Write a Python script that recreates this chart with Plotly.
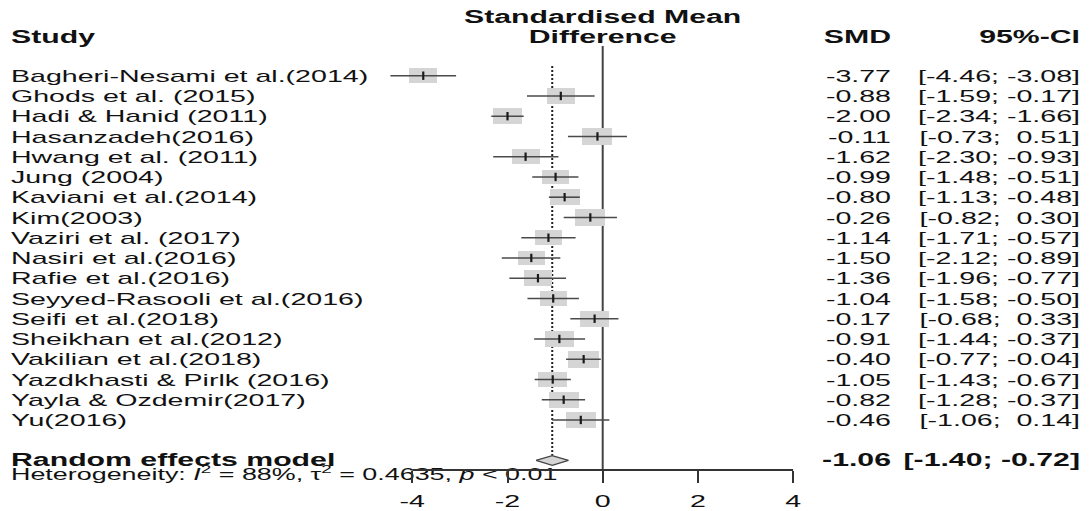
import plotly.graph_objects as go

# ---------------- data ----------------
studies = [
    "Bagheri-Nesami et al.(2014)", "Ghods et al. (2015)", "Hadi & Hanid (2011)",
    "Hasanzadeh(2016)", "Hwang et al. (2011)", "Jung (2004)", "Kaviani et al.(2014)",
    "Kim(2003)", "Vaziri et al. (2017)", "Nasiri et al.(2016)", "Rafie et al.(2016)",
    "Seyyed-Rasooli et al.(2016)", "Seifi et al.(2018)", "Sheikhan et al.(2012)",
    "Vakilian et al.(2018)", "Yazdkhasti & Pirlk (2016)", "Yayla & Ozdemir(2017)", "Yu(2016)",
]
smd = [-3.77, -0.88, -2.00, -0.11, -1.62, -0.99, -0.80, -0.26, -1.14, -1.50,
       -1.36, -1.04, -0.17, -0.91, -0.40, -1.05, -0.82, -0.46]
ci_lo = [-4.46, -1.59, -2.34, -0.73, -2.30, -1.48, -1.13, -0.82, -1.71, -2.12,
         -1.96, -1.58, -0.68, -1.44, -0.77, -1.43, -1.28, -1.06]
ci_hi = [-3.08, -0.17, -1.66, 0.51, -0.93, -0.51, -0.48, 0.30, -0.57, -0.89,
         -0.77, -0.50, 0.33, -0.37, -0.04, -0.67, -0.37, 0.14]
weights = [5.1, 5.3, 6.0, 6.0, 5.2, 4.8, 6.0, 5.9, 4.9, 4.8,
           5.5, 4.8, 5.9, 5.9, 6.5, 5.5, 6.0, 6.0]   # % (random effects), estimated

pooled_label = "Random effects model"
pooled_smd = -1.06
pooled_lo = -1.40
pooled_hi = -0.72
heterogeneity = "Heterogeneity: <i>I</i><sup>2</sup> = 88%, \u03c4<sup>2</sup> = 0.4635, <i>p</i> &lt; 0.01"

tick_vals = [-4, -2, 0, 2, 4]
tick_text = ["-4", "-2", "0", "2", "4"]

# ---------------- layout constants ----------------
FONT = "Liberation Sans, Arial, sans-serif"
W, H = 1090, 511
PX_ROW = 20.25          # pixels per row
ROW0_PX = 75.7          # pixel y of first study row
PX_UNIT = 47.6          # pixels per SMD unit
ZERO_PX = 602.7         # pixel x of SMD = 0
TEXT_STRETCH = 1.68     # the reference text is drawn horizontally widened
TEXT_DY = 2.0           # text sits slightly below the marks in the reference (px)

y_bottom = (H - ROW0_PX) / PX_ROW
y_top = -ROW0_PX / PX_ROW
x_left = -ZERO_PX / PX_UNIT
x_right = (W - ZERO_PX) / PX_UNIT


def xpx(p):
    return (p - ZERO_PX) / PX_UNIT


def ypx(p):
    return (p - ROW0_PX) / PX_ROW


n = len(studies)
rows = list(range(n))
row_pooled = n + 1
row_axis = ypx(470)
axis_pos = (y_bottom - row_axis) / (y_bottom - y_top)
dy = TEXT_DY / PX_ROW
text_rows = [r + dy for r in rows]

x_names = xpx(11)
x_smd = xpx(891)
x_ci = xpx(1080)


def fmt_ci(lo, hi):
    return f"[{lo:5.2f}; {hi:5.2f}]".replace(" ", "\u00a0")


def fmt_v(v):
    return f"{v:.2f}"


ref_w = 5.42
box_w = [(28.5 / PX_UNIT) * (w / ref_w) ** 0.5 for w in weights]
box_h = [0.77 * (w / ref_w) ** 0.5 for w in weights]

fig = go.Figure()

# study squares (weights)
fig.add_trace(go.Bar(
    orientation="h",
    y=rows,
    x=box_w,
    base=[s - bw / 2 for s, bw in zip(smd, box_w)],
    width=box_h,
    marker=dict(color="#d5d5d5", line=dict(width=0)),
    hoverinfo="skip",
))

# confidence intervals + point estimates
fig.add_trace(go.Scatter(
    x=smd, y=rows, mode="markers",
    marker=dict(symbol="line-ns", size=6, line=dict(width=2.2, color="#1a1a1a")),
    error_x=dict(type="data", symmetric=False,
                 array=[h - s for h, s in zip(ci_hi, smd)],
                 arrayminus=[s - l for s, l in zip(smd, ci_lo)],
                 width=0, thickness=1.6, color="#4a4a4a"),
    cliponaxis=False, hoverinfo="skip",
))

# pooled diamond
fig.add_trace(go.Scatter(
    x=[pooled_lo, pooled_smd, pooled_hi, pooled_smd, pooled_lo],
    y=[row_pooled, row_pooled - 0.24, row_pooled, row_pooled + 0.24, row_pooled],
    mode="lines", fill="toself", fillcolor="#d5d5d5",
    line=dict(color="#444444", width=1.3), hoverinfo="skip",
))

# text columns
body = dict(family=FONT, size=17, color="#111111")
bold = dict(family=FONT, size=18, color="#111111", weight="bold")

fig.add_trace(go.Scatter(x=[x_names] * n, y=text_rows, mode="text", text=studies,
                         textposition="middle right", textfont=body, hoverinfo="skip"))
fig.add_trace(go.Scatter(x=[x_smd] * n, y=text_rows, mode="text", text=[fmt_v(v) for v in smd],
                         textposition="middle left", textfont=body, hoverinfo="skip"))
fig.add_trace(go.Scatter(x=[x_ci] * n, y=text_rows, mode="text",
                         text=[fmt_ci(l, h) for l, h in zip(ci_lo, ci_hi)],
                         textposition="middle left", textfont=body, hoverinfo="skip"))

# headers
y_head = ypx(38)
fig.add_trace(go.Scatter(x=[x_names], y=[y_head], mode="text", text=["Study"],
                         textposition="middle right", textfont=bold, hoverinfo="skip"))
fig.add_trace(go.Scatter(x=[0, 0], y=[ypx(18), y_head], mode="text",
                         text=["Standardised Mean", "Difference"],
                         textposition="middle center", textfont=bold, hoverinfo="skip"))
fig.add_trace(go.Scatter(x=[x_smd], y=[y_head], mode="text", text=["SMD"],
                         textposition="middle left", textfont=bold, hoverinfo="skip"))
fig.add_trace(go.Scatter(x=[x_ci], y=[y_head], mode="text", text=["95%-CI"],
                         textposition="middle left", textfont=bold, hoverinfo="skip"))

# pooled row text
y_pool_text = ypx(461.5)
fig.add_trace(go.Scatter(x=[x_names], y=[y_pool_text], mode="text", text=[pooled_label],
                         textposition="middle right", textfont=bold, hoverinfo="skip"))
fig.add_trace(go.Scatter(x=[x_smd], y=[y_pool_text], mode="text", text=[fmt_v(pooled_smd)],
                         textposition="middle left", textfont=bold, hoverinfo="skip"))
fig.add_trace(go.Scatter(x=[x_ci], y=[y_pool_text], mode="text", text=[fmt_ci(pooled_lo, pooled_hi)],
                         textposition="middle left", textfont=bold, hoverinfo="skip"))
fig.add_trace(go.Scatter(x=[x_names], y=[ypx(476)], mode="text", text=[heterogeneity],
                         textposition="middle right",
                         textfont=dict(family=FONT, size=16, color="#111111"), hoverinfo="skip"))

# reference lines
fig.add_shape(type="line", xref="x", yref="y", x0=0, x1=0, y0=ypx(46), y1=row_axis,
              line=dict(color="#444444", width=2), layer="below")
fig.add_shape(type="line", xref="x", yref="y", x0=pooled_smd, x1=pooled_smd,
              y0=ypx(66), y1=row_pooled - 0.24,
              line=dict(color="#222222", width=2, dash="2px,2px"), layer="below")
# axis line (-4 .. 4)
fig.add_shape(type="line", xref="x", yref="paper", x0=min(tick_vals), x1=max(tick_vals),
              y0=axis_pos, y1=axis_pos, line=dict(color="#333333", width=2))

fig.update_layout(
    width=W, height=H,
    margin=dict(l=0, r=0, t=0, b=0, pad=0, autoexpand=False),
    paper_bgcolor="white", plot_bgcolor="white",
    showlegend=False,
    xaxis=dict(range=[x_left, x_right], anchor="free", position=axis_pos,
               automargin=False,
               showline=False, showgrid=False, zeroline=False,
               tickmode="array", tickvals=tick_vals, ticktext=tick_text,
               ticks="outside", ticklen=12, tickwidth=2, tickcolor="#333333",
               ticklabelstandoff=4,
               tickfont=dict(family=FONT, size=17, color="#111111"),
               fixedrange=True),
    yaxis=dict(range=[y_bottom, y_top], visible=False, automargin=False, fixedrange=True),
    bargap=0,
)

# page tweaks: no body margin; widen text horizontally like the reference
post_js = """
document.body.style.margin = '0';
var gd = document.getElementById('{plot_id}');
gd.querySelectorAll('text').forEach(function (t) {
  var w = t.getComputedTextLength();
  if (w > 0) {
    t.setAttribute('textLength', (w * %s).toFixed(2));
    t.setAttribute('lengthAdjust', 'spacingAndGlyphs');
  }
});
""" % TEXT_STRETCH

fig.write_html("out.html", post_script=post_js, config={"displayModeBar": False})
